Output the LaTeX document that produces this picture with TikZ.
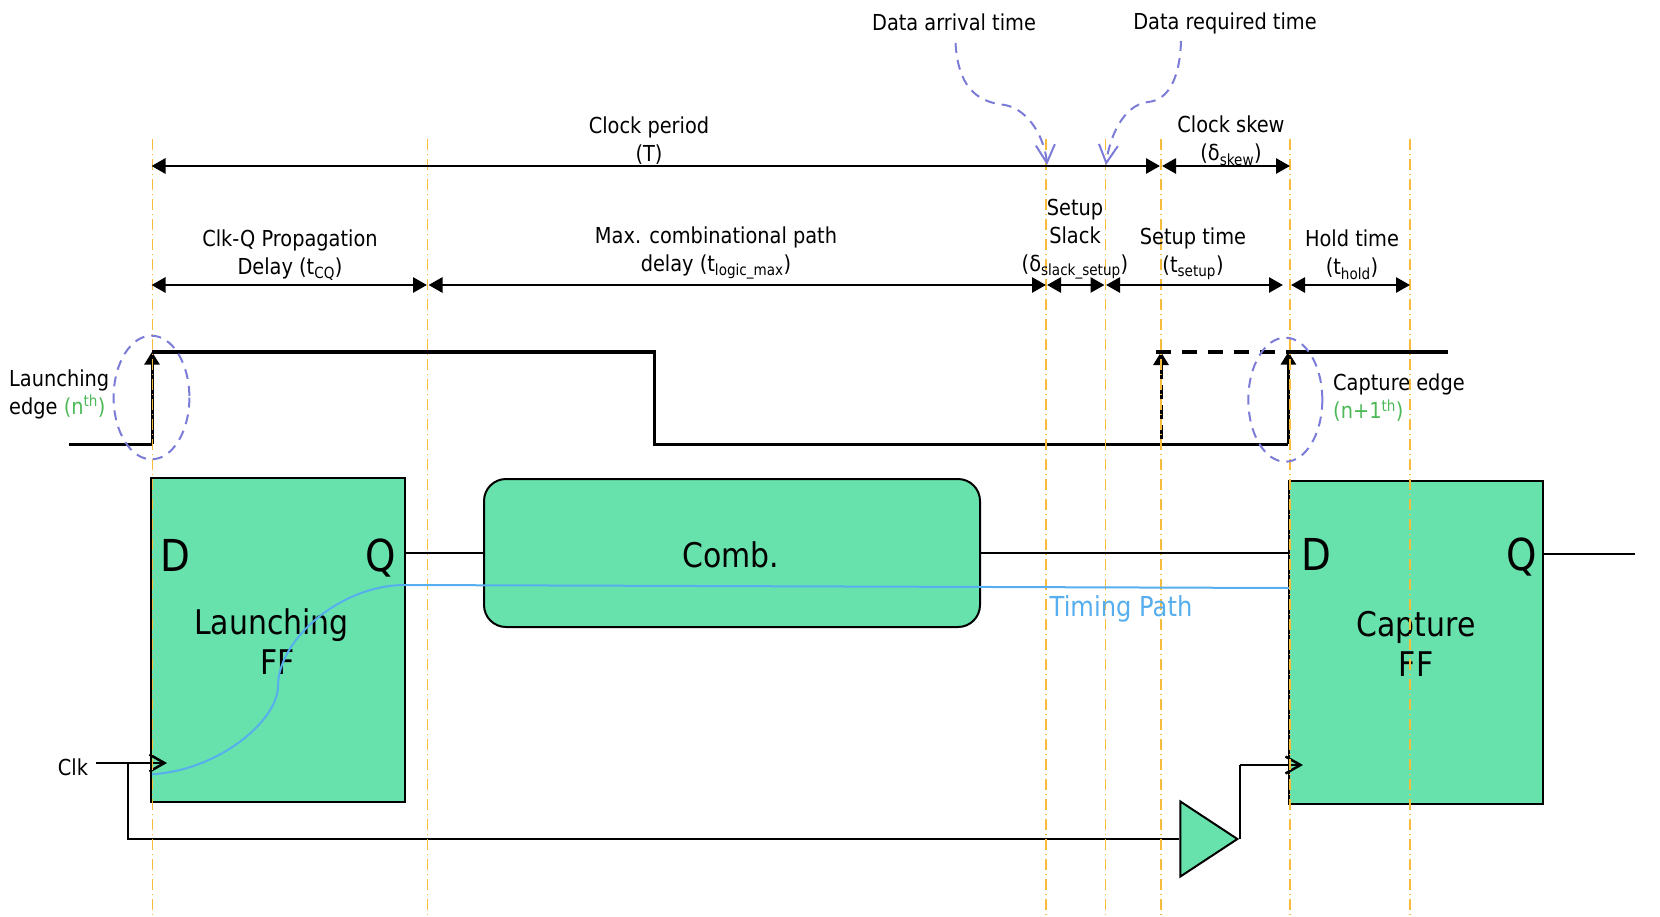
\documentclass[tikz,border=0pt]{standalone}
\usepackage{fontspec}
\setmainfont[FakeStretch=0.88]{DejaVu Sans}
\usetikzlibrary{arrows.meta,shapes.geometric}
\definecolor{ffgreen}{HTML}{68E2AC}
\definecolor{guideorange}{HTML}{F7BC3C}
\definecolor{notepurple}{HTML}{7C7CD8}
\definecolor{pathblue}{HTML}{56AEEE}
\definecolor{edgegreen}{HTML}{4CB858}
\newcommand{\txt}[1]{\fontsize{#1}{28pt}\selectfont}
\tikzset{
	guide/.style={guideorange,line width=1.5pt,dash pattern=on 10.5pt off 4pt on 1.5pt off 4pt},
	span/.style={line width=2.8pt,{Triangle[length=14pt,width=15pt]}-{Triangle[length=14pt,width=15pt]}},
	wave/.style={line width=3.6pt},
	wire/.style={line width=2pt},
	clkarrow/.style={line width=2.5pt,-{Straight Barb[length=15pt,width=17pt]}},
	edgearrow/.style={line width=3pt,-{Triangle[length=13pt,width=15pt]}},
	note/.style={notepurple,line width=2pt,dash pattern=on 10pt off 7pt},
	ffbox/.style={draw,fill=ffgreen,line width=2pt,inner sep=0pt},
	lbl/.style={align=center,inner sep=0pt,font=\txt{22}},
	big/.style={inner sep=0pt,font=\fontsize{44}{44}\selectfont},
	mid/.style={align=center,inner sep=0pt,font=\fontsize{34}{40}\selectfont}
}
\begin{document}
\begin{tikzpicture}[x=1pt,y=-1pt]
	\useasboundingbox (0,0) rectangle (1660,916);
	% blocks
	\node[ffbox,minimum width=254pt,minimum height=324pt] (launchff) at (278,640) {};
	\node[ffbox,minimum width=254pt,minimum height=323pt] (captureff) at (1416,642.5) {};
	\node[ffbox,rounded corners=22pt,minimum width=496pt,minimum height=148pt] (comb) at (732,553) {};
	\node[ffbox,isosceles triangle,isosceles triangle stretches,minimum height=57pt,minimum width=75pt,anchor=apex] (buf) at (1240,839) {};
	% block labels
	\node[big] (ld) at (175,555) {D};
	\node[big] (lq) at (381,558) {Q};
	\node[big] (cd) at (1316,554) {D};
	\node[big] (cq) at (1522,557) {Q};
	\node[mid] (combtxt) at (731,555) {Comb.};
	\node[mid] (lfftxt) at (278,642) {Launching\hspace*{13pt}\\FF};
	\node[mid] (cfftxt) at (1416,644) {Capture\\FF};
	% wires
	\coordinate (qout) at (1635,554);
	\coordinate (clkin) at (96,763);
	\coordinate (clktip) at (167,763);
	\coordinate (clkdown) at (128,763);
	\coordinate (clklow) at (128,839);
	\coordinate (bufup) at (1240,765);
	\coordinate (captip) at (1303,765);
	\draw[wire] (405,552.7) coordinate (lqpin) -- (484,552.7) coordinate (combin);
	\draw[wire] (980,552.7) coordinate (combout) -- (1289,552.7) coordinate (cdpin);
	\draw[wire] (1543,554) coordinate (cqpin) -- (qout);
	\draw[clkarrow] (clkin) -- (clktip);
	\draw[wire] (clkdown) -- (clklow) -- (buf.west);
	\draw[wire] (buf.apex) -- (bufup);
	\draw[clkarrow] (bufup) -- (captip);
	\node[lbl] (clktxt) at (73,767) {Clk};
	% clock wave
	\coordinate (wa) at (69,444.3);
	\coordinate (wb) at (152,444.3);
	\coordinate (wc) at (152,351.7);
	\coordinate (wd) at (654.3,351.7);
	\coordinate (we) at (654.3,444.3);
	\coordinate (wf) at (1288.4,444.3);
	\coordinate (wg) at (1288.4,351.7);
	\coordinate (wh) at (1448,351.7);
	\coordinate (sa) at (1156,351.7);
	\coordinate (sb) at (1161,439);
	\coordinate (sc) at (1161,352);
	\draw[wave] (wa) -- (wb);
	\draw[wave] (wc) -- (wd) -- (we) -- (wf);
	\draw[wave] (wg) -- (wh);
	\draw[wave,dash pattern=on 15pt off 11pt] (sa) -- (wg);
	\draw[edgearrow] (wb) -- (wc);
	\draw[edgearrow] (wf) -- (wg);
	\draw[edgearrow,dash pattern=on 14pt off 6pt] (sb) -- (sc);
	% guides
	\foreach \gx/\gname in {152.5/ga,427.7/gb,1046/gc,1105.3/gd,1160.9/ge,1290/gf,1410.2/gg}{
		\coordinate (\gname) at (\gx,139);
		\draw[guide] (\gname) -- (\gx,916);
	}
	% timing path
	\coordinate (pa) at (152,774.3);
	\coordinate (pb) at (278,686);
	\coordinate (pc) at (405,585);
	\coordinate (pd) at (1289,588);
	\draw[pathblue,line width=2pt] (pa) .. controls (220,770) and (278,720) .. (pb) .. controls (278,640) and (340,585) .. (pc) -- (pd);
	\node[lbl,pathblue,font=\txt{27.5}] (pathtxt) at (1121,609) {Timing Path};
	% edge markers
	\draw[note] (151.5,397.5) ellipse (37.9 and 61.8);
	\draw[note] (1285.3,399.7) ellipse (37 and 62);
	\node[lbl,align=left,anchor=west] (launchtxt) at (9,394) {Launching\\edge \textcolor{edgegreen}{(n\textsuperscript{th})}};
	\node[lbl,align=left,anchor=west] (capturetxt) at (1333,398) {Capture edge\\\textcolor{edgegreen}{(n+1\textsuperscript{th})}};
	% spans
	\coordinate (ta) at (151.5,166);
	\coordinate (tb) at (1160,166);
	\coordinate (tc) at (1162,166);
	\coordinate (td) at (1290,166);
	\draw[span] (ta) -- (tb);
	\draw[span] (tc) -- (td);
	\coordinate (ra) at (151.5,285);
	\coordinate (rb) at (427,285);
	\coordinate (rc) at (428.5,285);
	\coordinate (rd) at (1046,285);
	\coordinate (re) at (1047,285);
	\coordinate (rf) at (1104.5,285);
	\coordinate (rg) at (1106,285);
	\coordinate (rh) at (1283,285);
	\coordinate (ri) at (1291,285);
	\coordinate (rj) at (1410,285);
	\draw[span] (ra) -- (rb);
	\draw[span] (rc) -- (rd);
	\draw[span] (re) -- (rf);
	\draw[span] (rg) -- (rh);
	\draw[span] (ri) -- (rj);
	\node[lbl] (periodtxt) at (649,141) {Clock period\\(T)};
	\node[lbl] (skewtxt) at (1231,140.5) {Clock skew\\(δ\textsubscript{skew})};
	\node[lbl] (cqtxt) at (290,255) {Clk-Q Propagation\\Delay (t\textsubscript{CQ})};
	\node[lbl] (logictxt) at (716,253) {Max. combinational path\\delay (t\textsubscript{logic\_max})};
	\node[lbl] (slacktxt) at (1075,239) {Setup\\Slack\\(δ\textsubscript{slack\_setup})};
	\node[lbl] (setuptxt) at (1193,253.5) {Setup time\\(t\textsubscript{setup})};
	\node[lbl] (holdtxt) at (1352,255) {Hold time\\(t\textsubscript{hold})};
	% data time notes
	\node[lbl] (arrivetxt) at (954,22) {Data arrival time};
	\node[lbl] (requiretxt) at (1225,23) {Data required time};
	\coordinate (na) at (955.5,43);
	\coordinate (nb) at (1005,105);
	\coordinate (nc) at (1047,165);
	\coordinate (nd) at (1181,41);
	\coordinate (ne) at (1148,102);
	\coordinate (nf) at (1106,165);
	\draw[note,-{Straight Barb[length=18pt,width=19pt]}] (na) .. controls (958,85) and (975,102) .. (nb) .. controls (1030,110) and (1045,140) .. (nc);
	\draw[note,-{Straight Barb[length=18pt,width=19pt]}] (nd) .. controls (1180,75) and (1170,100) .. (ne) .. controls (1122,105) and (1109,140) .. (nf);
\end{tikzpicture}
\end{document}
